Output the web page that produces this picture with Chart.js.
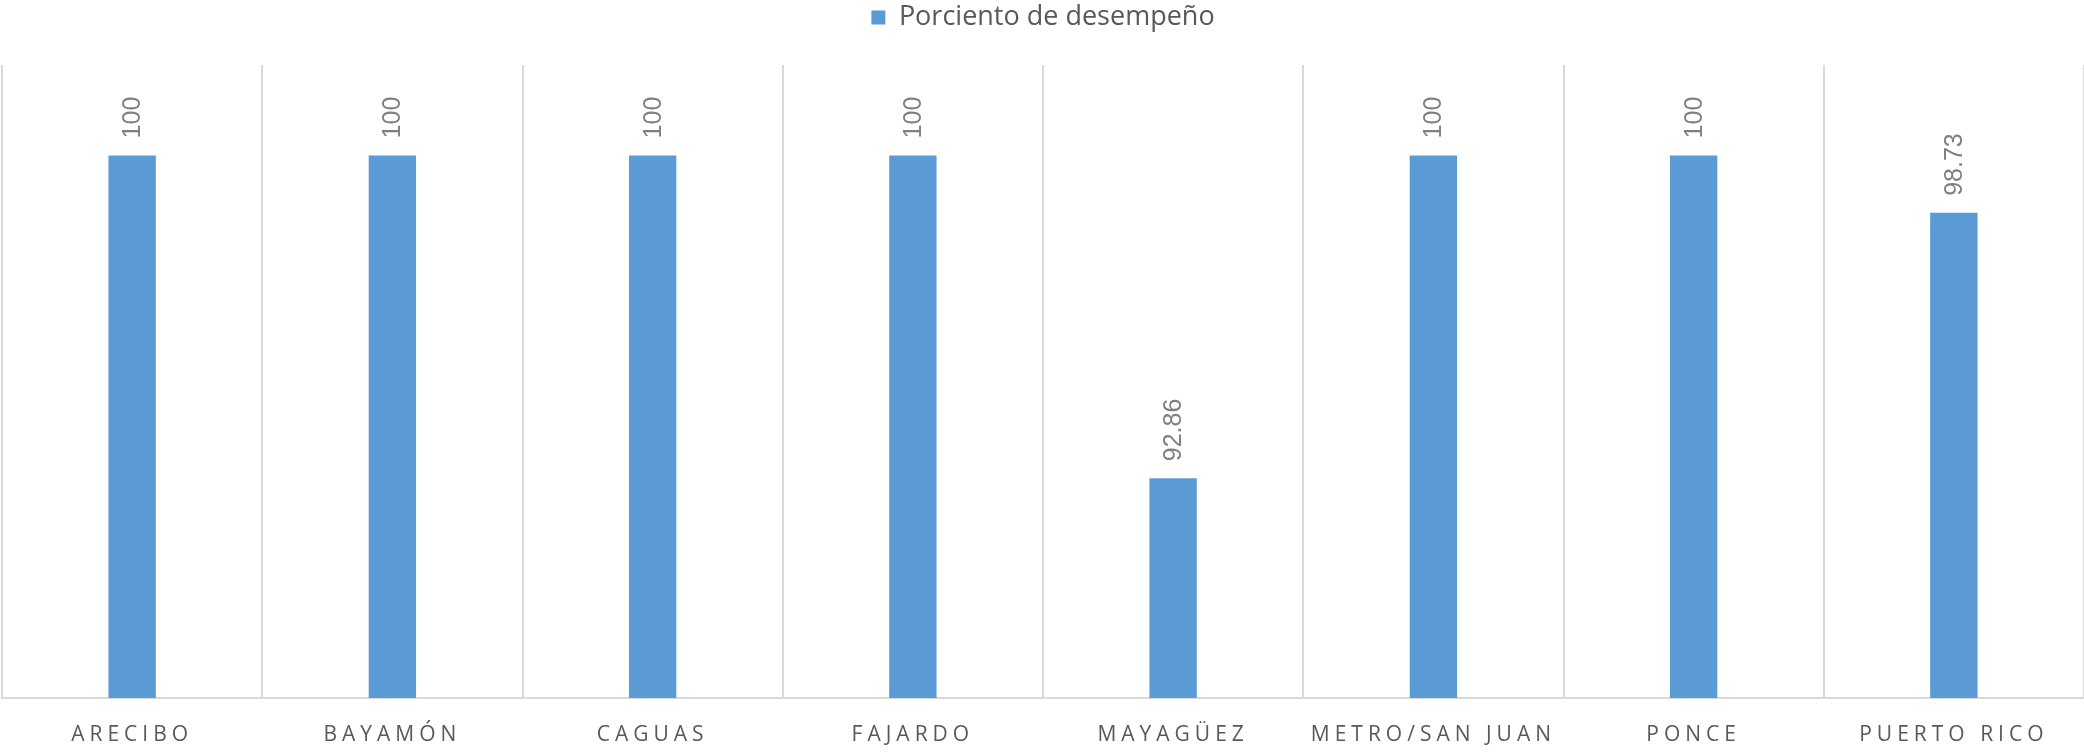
<!DOCTYPE html>
<html>
<head>
<meta charset="utf-8">
<script src="https://cdn.jsdelivr.net/npm/chart.js@4.4.1/dist/chart.umd.min.js"></script>
<style>
  html, body { margin: 0; padding: 0; background: #fff; }
  #wrap { width: 2084px; height: 753px; }
</style>
</head>
<body>
<div id="wrap"><canvas id="chart"></canvas></div>
<script>
const categories = ['ARECIBO', 'BAYAMÓN', 'CAGUAS', 'FAJARDO', 'MAYAGÜEZ', 'METRO/SAN JUAN', 'PONCE', 'PUERTO RICO'];
const seriesName = 'Porciento de desempeño';
const desempeno = [100, 100, 100, 100, 92.86, 100, 100, 98.73];
const yMin = 88;
const yMax = 102;

// Extra gap between the legend and the plot area
const legendGap = {
  id: 'legendGap',
  beforeInit(chart) {
    const fit = chart.legend.fit;
    chart.legend.fit = function () {
      fit.bind(chart.legend)();
      this.height += 24;
    };
  }
};

// Spaced-out category labels, like the Excel original
const spacedTicks = {
  id: 'spacedTicks',
  beforeDraw(chart) {
    const s = chart.scales.x;
    if (s._spaced) return;
    const orig = s.drawLabels.bind(s);
    s.drawLabels = function (area) {
      const ctx = this.ctx;
      ctx.save();
      ctx.letterSpacing = '5px';
      orig(area);
      ctx.restore();
    };
    s._spaced = true;
  }
};

// Rotated value labels above each bar
const valueLabels = {
  id: 'valueLabels',
  afterDatasetsDraw(chart) {
    const ctx = chart.ctx;
    const meta = chart.getDatasetMeta(0);
    meta.data.forEach((bar, i) => {
      ctx.save();
      ctx.translate(bar.x + 1, bar.y - 17);
      ctx.rotate(-Math.PI / 2);
      ctx.font = '25px "Liberation Sans", Arial, sans-serif';
      ctx.fillStyle = '#808080';
      ctx.textAlign = 'left';
      ctx.textBaseline = 'middle';
      ctx.fillText(String(desempeno[i]), 0, 0);
      ctx.restore();
    });
  }
};

new Chart(document.getElementById('chart'), {
  type: 'bar',
  data: {
    labels: categories,
    datasets: [{
      label: seriesName,
      data: desempeno,
      backgroundColor: '#5B9BD5',
      borderWidth: 0,
      categoryPercentage: 1,
      barPercentage: 0.182
    }]
  },
  options: {
    responsive: true,
    maintainAspectRatio: false,
    animation: false,
    layout: { padding: { left: 2, right: 0, top: 0, bottom: 0 } },
    plugins: {
      legend: {
        position: 'top',
        labels: {
          boxWidth: 14,
          boxHeight: 14,
          padding: 4,
          color: '#595959',
          font: { family: '"Open Sans", sans-serif', size: 27 }
        }
      },
      tooltip: { enabled: false }
    },
    scales: {
      x: {
        offset: true,
        // fixed axis band so the baseline sits where Excel put it
        afterFit(scale) { scale.height = 55; },
        grid: {
          display: true,
          offset: true,
          color: '#d9d9d9',
          lineWidth: 2,
          drawTicks: false
        },
        border: { display: true, color: '#d9d9d9', width: 2 },
        ticks: {
          color: '#595959',
          padding: 24,
          maxRotation: 0,
          autoSkip: false,
          font: { family: '"Open Sans", sans-serif', size: 21 }
        }
      },
      y: {
        display: false,
        min: yMin,
        max: yMax
      }
    }
  },
  plugins: [legendGap, spacedTicks, valueLabels]
});
</script>
</body>
</html>
